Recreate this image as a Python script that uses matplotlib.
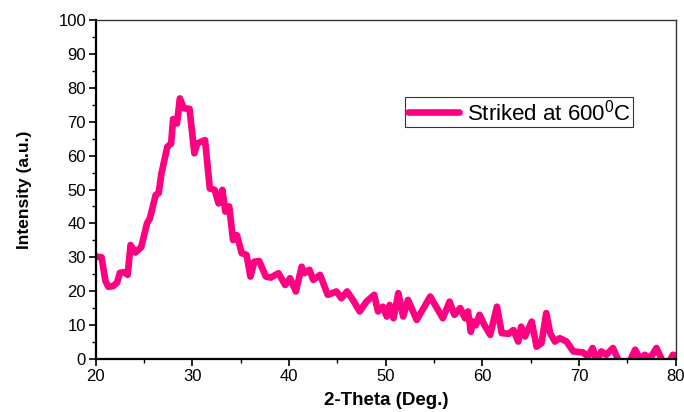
import matplotlib
matplotlib.use('Agg')
import matplotlib.pyplot as plt
from matplotlib.ticker import MultipleLocator

plt.rcParams['font.family'] = ['Liberation Sans', 'DejaVu Sans']

# 2-theta (deg) and intensity
two_theta = [20.0, 20.6, 21.0, 21.3, 21.8, 22.2, 22.5, 23.0, 23.3, 23.6, 24.1, 24.7,
             25.3, 25.6, 26.2, 26.5, 26.8, 27.4, 27.8, 28.0, 28.4, 28.7, 29.1, 29.7,
             30.2, 30.5, 31.3, 31.8, 32.3, 32.7, 33.1, 33.4, 33.8, 34.2, 34.6, 35.1,
             35.6, 36.0, 36.4, 36.9, 37.6, 38.1, 38.9, 39.6, 40.1, 40.7, 41.3, 41.6,
             42.1, 42.5, 43.2, 44.0, 44.9, 45.4, 46.0, 46.6, 47.3, 48.0, 48.8, 49.2,
             49.7, 50.1, 50.4, 50.8, 51.3, 51.8, 52.3, 53.2, 54.6, 55.9, 56.6, 57.1,
             57.7, 58.2, 58.5, 58.8, 59.0, 59.3, 59.7, 60.2, 60.8, 61.5, 62.0, 62.7,
             63.2, 63.7, 64.0, 64.4, 65.1, 65.6, 66.1, 66.6, 67.0, 67.5, 68.0, 68.7,
             69.4, 70.4, 70.9, 71.4, 71.8, 72.3, 72.8, 73.5, 74.0, 74.5, 75.2, 75.8,
             76.3, 76.8, 77.3, 78.0, 78.6, 79.2, 79.7, 80.0]
intensity = [30.2, 30.0, 23.0, 21.3, 21.5, 22.5, 25.4, 25.6, 24.8, 33.6, 31.4, 33.0,
             40.0, 41.5, 48.4, 48.9, 54.8, 62.6, 63.6, 70.8, 69.5, 76.9, 74.0, 73.8,
             60.7, 63.6, 64.6, 50.3, 49.9, 45.9, 49.9, 43.5, 45.0, 35.1, 36.5, 31.2,
             30.7, 24.3, 28.7, 28.9, 24.3, 24.0, 25.3, 21.8, 23.8, 19.9, 27.2, 25.3,
             26.3, 23.3, 24.8, 18.9, 19.9, 17.9, 19.9, 17.4, 14.0, 16.9, 18.9, 14.0,
             15.4, 12.5, 15.9, 12.0, 19.4, 12.5, 17.4, 11.5, 18.4, 12.0, 16.9, 13.0,
             15.0, 12.0, 14.0, 8.0, 11.0, 9.9, 13.0, 10.0, 7.1, 15.4, 7.6, 7.4,
             8.5, 5.1, 9.5, 6.6, 11.0, 3.6, 4.6, 13.5, 7.6, 5.1, 6.1, 5.1,
             2.2, 1.9, 0.7, 3.2, -0.5, 2.2, 1.2, 3.2, 0.0, -1.5, -1.0, 2.7,
             0.0, 1.2, 0.0, 3.2, -0.5, -1.5, 1.2, 1.0]

fig = plt.figure(figsize=(6.84, 4.12), dpi=100)
ax = fig.add_axes([0.140, 0.129, 0.848, 0.822])

ax.plot(two_theta, intensity, color='#ff0080', lw=4.8, solid_joinstyle='round',
        solid_capstyle='round', label='Striked at 600$^{\\mathregular{0}}$C')

ax.set_xlim(20, 80)
ax.set_ylim(0, 100)
ax.xaxis.set_major_locator(MultipleLocator(10))
ax.xaxis.set_minor_locator(MultipleLocator(5))
ax.yaxis.set_major_locator(MultipleLocator(10))
ax.yaxis.set_minor_locator(MultipleLocator(5))
ax.tick_params(which='major', direction='out', length=5, width=1.2, labelsize=12, pad=2)
ax.tick_params(which='minor', direction='out', length=3, width=1.0)

for s in ['left', 'bottom']:
    ax.spines[s].set_linewidth(1.6)
for s in ['top', 'right']:
    ax.spines[s].set_linewidth(1.0)
    ax.spines[s].set_color('#333333')

ax.set_xlabel('2-Theta (Deg.)', fontsize=13.5, fontweight='bold', labelpad=6)
ax.set_ylabel('Intensity (a.u.)', fontsize=12.5, fontweight='bold', labelpad=19)

leg = ax.legend(loc='upper left', bbox_to_anchor=(0.534, 0.773), fontsize=16,
                frameon=True, fancybox=False, handlelength=2.3, borderpad=0.1,
                handletextpad=0.35, borderaxespad=0)
leg.get_frame().set_edgecolor('black')
leg.get_frame().set_linewidth(0.8)

fig.savefig('out.png', dpi=100)
